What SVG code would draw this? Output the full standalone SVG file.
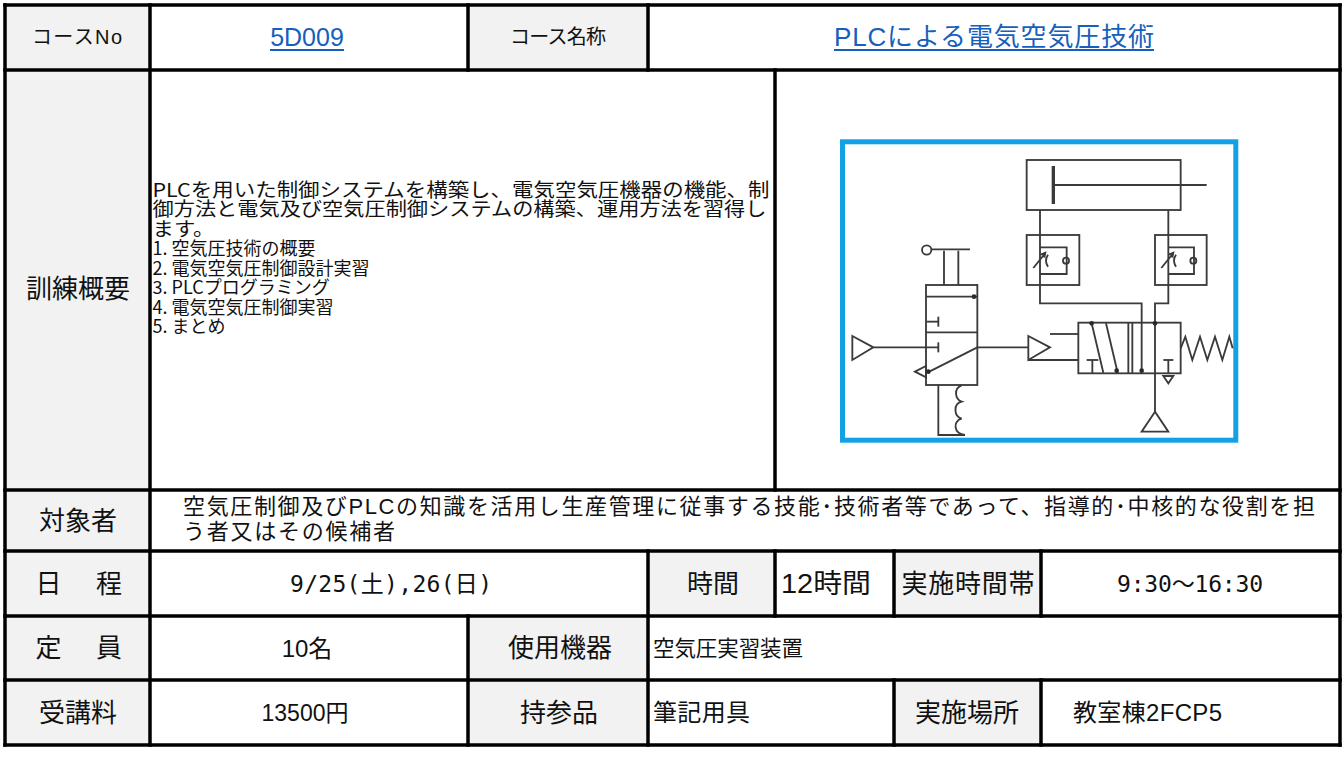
<svg xmlns="http://www.w3.org/2000/svg" width="1343" height="762" viewBox="0 0 1343 762">
<style>
.bg{fill:#fff}
.lbl{fill:#f2f2f2}
.t{font-family:"Liberation Sans","Noto Sans CJK JP",sans-serif;fill:#111}
.j{font-family:"Noto Sans CJK JP","Liberation Sans",sans-serif;fill:#111}
.m{font-family:"DejaVu Sans Mono","Noto Sans CJK JP",monospace;fill:#111}
.c{text-anchor:middle}
.link{fill:#1560bd}
.ul{stroke:#1560bd;stroke-width:2}
.grid line{stroke:#000;stroke-width:3.5;stroke-linecap:square}
.sch{fill:none;stroke:#3a3a3a;stroke-width:5.5;stroke-linejoin:miter}
.dot{fill:#2a2a2a;stroke:none}
.frame{fill:#fff;stroke:#13a1e6;stroke-width:5}
</style>
<rect class="bg" x="0" y="0" width="1343" height="762"/>

<g id="cell-course-no-label"><rect class="lbl" x="5" y="5" width="145" height="65"/><text class="t c" x="77" y="44.2" font-size="20" textLength="90">コースNo</text></g>
<g id="cell-course-no"><text class="t c link" x="307" y="46" font-size="25">5D009</text><line class="ul" x1="270" y1="50" x2="344" y2="50"/></g>
<g id="cell-course-name-label"><rect class="lbl" x="468" y="5" width="180" height="65"/><text class="t c" x="558" y="44.2" font-size="20" textLength="96">コース名称</text></g>
<g id="cell-course-name"><text class="t c link" x="994" y="46.4" font-size="26" textLength="320">PLCによる電気空気圧技術</text><line class="ul" x1="834" y1="50" x2="1154" y2="50"/></g>

<g id="cell-summary-label"><rect class="lbl" x="5" y="70" width="145" height="420"/><text class="t c" x="78" y="298.4" font-size="26">訓練概要</text></g>
<g id="cell-summary">
<text class="j" x="152.5" y="196.8" font-size="19" textLength="617" lengthAdjust="spacingAndGlyphs">PLCを用いた制御システムを構築し、電気空気圧機器の機能、制</text>
<text class="j" x="152.5" y="216.3" font-size="19" textLength="614" lengthAdjust="spacingAndGlyphs">御方法と電気及び空気圧制御システムの構築、運用方法を習得し</text>
<text class="j" x="152.5" y="235.8" font-size="19" textLength="62" lengthAdjust="spacingAndGlyphs">ます。</text>
<text class="j" x="152.5" y="255" font-size="18">1. 空気圧技術の概要</text>
<text class="j" x="152.5" y="274.5" font-size="18">2. 電気空気圧制御設計実習</text>
<text class="j" x="152.5" y="294" font-size="18">3. PLCプログラミング</text>
<text class="j" x="152.5" y="313.5" font-size="18">4. 電気空気圧制御実習</text>
<text class="j" x="152.5" y="333" font-size="18">5. まとめ</text>
</g>
<g id="cell-image">
<rect class="frame" x="842.5" y="141.8" width="393.3" height="298.4"/>
<g class="sch" transform="translate(820 130) scale(0.33333)">
<rect x="620" y="90" width="462" height="150"/>
<line x1="700" y1="108" x2="700" y2="222" stroke-width="10"/>
<line x1="700" y1="165" x2="1160" y2="165"/>
<polyline points="660,240 660,520 965,520 965,722"/>
<polyline points="1045,240 1045,520 1005,520 1005,845"/>
<polygon points="1005,845 965,905 1045,905"/>
<rect x="620" y="315" width="158" height="150"/>
<polyline points="660,352 740,352 740,432 660,432"/>
<circle cx="738" cy="392" r="9"/>
<path d="M640,414 L674,372 M662,374 L676,368 L673,383 M684,374 Q672,392 684,410"/>
<rect x="1005" y="315" width="155" height="150"/>
<polyline points="1045,352 1122,352 1122,432 1045,432"/>
<circle cx="1120" cy="392" r="9"/>
<path d="M1024,414 L1058,372 M1046,374 L1060,368 L1057,383 M1068,374 Q1056,392 1068,410"/>
<rect x="775" y="578" width="307" height="152"/>
<line x1="815" y1="580" x2="850" y2="728"/>
<line x1="858" y1="580" x2="893" y2="728"/>
<line x1="800" y1="690" x2="835" y2="690"/>
<line x1="817" y1="690" x2="817" y2="730"/>
<line x1="925" y1="578" x2="925" y2="730"/>
<line x1="937" y1="578" x2="937" y2="730"/>
<line x1="1030" y1="690" x2="1060" y2="690"/>
<line x1="1045" y1="690" x2="1045" y2="730"/>
<polygon points="1030,738 1060,738 1045,760"/>
<polyline points="1082,655 1096,620 1117,690 1140,620 1162,690 1185,620 1207,690 1228,620 1238,655"/>
<polygon points="625,618 690,652 625,690"/>
<line x1="690" y1="612" x2="775" y2="612"/>
<line x1="625" y1="690" x2="775" y2="690"/>
<line x1="472" y1="652" x2="625" y2="652"/>
<rect x="318" y="465" width="154" height="300"/>
<line x1="318" y1="500" x2="472" y2="500"/>
<line x1="318" y1="607" x2="472" y2="607"/>
<line x1="320" y1="575" x2="355" y2="575"/>
<line x1="355" y1="560" x2="355" y2="590"/>
<line x1="160" y1="652" x2="355" y2="652"/>
<line x1="355" y1="637" x2="355" y2="667"/>
<line x1="322" y1="728" x2="472" y2="652"/>
<polygon points="285,725 318,708 318,742"/>
<polygon points="97,618 160,652 97,690"/>
<circle cx="320" cy="360" r="14"/>
<line x1="336" y1="358" x2="450" y2="358"/>
<line x1="372" y1="362" x2="372" y2="465"/>
<line x1="415" y1="362" x2="415" y2="465"/>
<path d="M355,765 V915 H435 C400,912 398,872 425,866 C402,860 398,822 425,815 C405,808 400,775 425,766"/>
<circle class="dot" cx="462" cy="500" r="7"/>
<circle class="dot" cx="325" cy="725" r="7"/>
<circle class="dot" cx="815" cy="580" r="7"/>
<circle class="dot" cx="890" cy="722" r="7"/>
<circle class="dot" cx="965" cy="722" r="7"/>
<circle class="dot" cx="1005" cy="580" r="7"/>
</g>
</g>

<g id="cell-target-label"><rect class="lbl" x="5" y="490" width="145" height="61"/><text class="t c" x="78" y="529.9" font-size="26">対象者</text></g>
<g id="cell-target">
<text class="t" x="183" y="514.4" font-size="22" textLength="1132">空気圧制御及びPLCの知識を活用し生産管理に従事する技能･技術者等であって、指導的･中核的な役割を担</text>
<text class="t" x="183" y="539.4" font-size="22" textLength="212">う者又はその候補者</text>
</g>

<g id="cell-schedule-label"><rect class="lbl" x="5" y="551" width="145" height="65"/><text class="t c" x="48.5" y="592.9" font-size="26">日</text><text class="t c" x="109" y="592.9" font-size="26">程</text></g>
<g id="cell-schedule"><text class="m c" x="391" y="591.8" font-size="23" textLength="202">9/25(土),26(日)</text></g>
<g id="cell-hours-label"><rect class="lbl" x="648" y="551" width="127" height="65"/><text class="t c" x="713" y="592.9" font-size="26">時間</text></g>
<g id="cell-hours"><text class="t c" x="826" y="593.2" font-size="27" textLength="90" lengthAdjust="spacingAndGlyphs">12時間</text></g>
<g id="cell-timeslot-label"><rect class="lbl" x="894" y="551" width="147" height="65"/><text class="t c" x="968" y="592.9" font-size="26" textLength="133">実施時間帯</text></g>
<g id="cell-timeslot"><text class="m c" x="1190" y="591.8" font-size="23" textLength="146">9:30〜16:30</text></g>

<g id="cell-capacity-label"><rect class="lbl" x="5" y="616" width="145" height="64"/><text class="t c" x="48.5" y="657.4" font-size="26">定</text><text class="t c" x="109" y="657.4" font-size="26">員</text></g>
<g id="cell-capacity"><text class="t c" x="307" y="656.6" font-size="24">10名</text></g>
<g id="cell-equipment-label"><rect class="lbl" x="468" y="616" width="180" height="64"/><text class="t c" x="560" y="657.4" font-size="26">使用機器</text></g>
<g id="cell-equipment"><text class="t" x="653" y="655.7" font-size="21.5" textLength="150">空気圧実習装置</text></g>

<g id="cell-fee-label"><rect class="lbl" x="5" y="680" width="145" height="65"/><text class="t c" x="78" y="721.9" font-size="26">受講料</text></g>
<g id="cell-fee"><text class="t c" x="305" y="720.8" font-size="23">13500円</text></g>
<g id="cell-bring-label"><rect class="lbl" x="468" y="680" width="180" height="65"/><text class="t c" x="559" y="721.9" font-size="26">持参品</text></g>
<g id="cell-bring"><text class="t" x="653" y="721.1" font-size="24" textLength="97">筆記用具</text></g>
<g id="cell-place-label"><rect class="lbl" x="894" y="680" width="147" height="65"/><text class="t c" x="967" y="721.9" font-size="26">実施場所</text></g>
<g id="cell-place"><text class="t" x="1073" y="721.1" font-size="24" textLength="149">教室棟2FCP5</text></g>

<g id="connectors" class="grid">
<line x1="5" y1="5" x2="1340" y2="5"/>
<line x1="5" y1="70" x2="1340" y2="70"/>
<line x1="5" y1="490" x2="1340" y2="490"/>
<line x1="5" y1="551" x2="1340" y2="551"/>
<line x1="5" y1="616" x2="1340" y2="616"/>
<line x1="5" y1="680" x2="1340" y2="680"/>
<line x1="5" y1="745" x2="1340" y2="745"/>
<line x1="5" y1="5" x2="5" y2="745"/>
<line x1="1340" y1="5" x2="1340" y2="745"/>
<line x1="150" y1="5" x2="150" y2="745"/>
<line x1="468" y1="5" x2="468" y2="70"/>
<line x1="468" y1="616" x2="468" y2="745"/>
<line x1="648" y1="5" x2="648" y2="70"/>
<line x1="648" y1="551" x2="648" y2="745"/>
<line x1="775" y1="70" x2="775" y2="490"/>
<line x1="775" y1="551" x2="775" y2="616"/>
<line x1="894" y1="551" x2="894" y2="616"/>
<line x1="894" y1="680" x2="894" y2="745"/>
<line x1="1041" y1="551" x2="1041" y2="616"/>
<line x1="1041" y1="680" x2="1041" y2="745"/>
</g>
</svg>
